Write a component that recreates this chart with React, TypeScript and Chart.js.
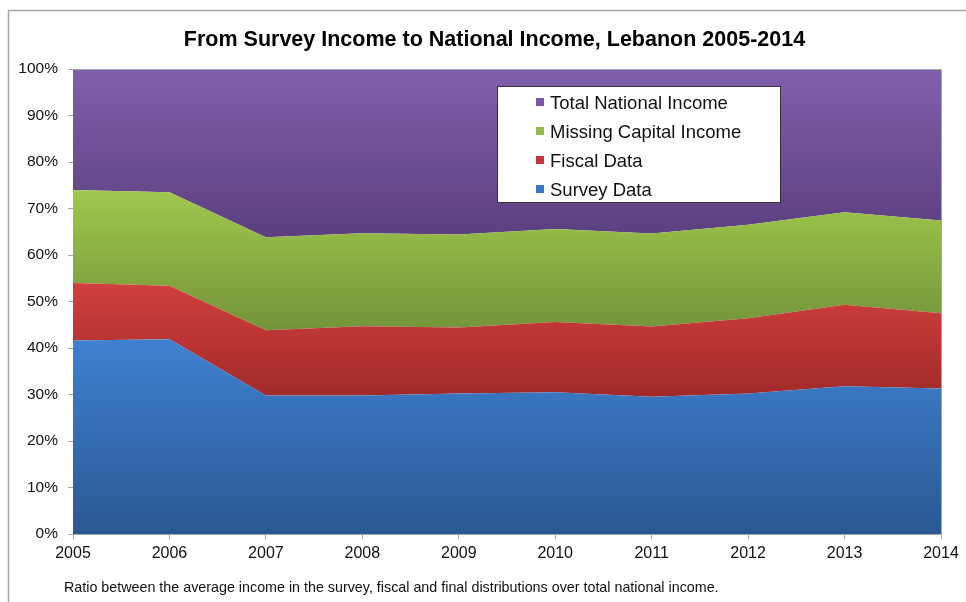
import React, { useEffect, useRef } from "react";
import { Chart, registerables } from "chart.js";

Chart.register(...registerables);

const years = ["2005", "2006", "2007", "2008", "2009", "2010", "2011", "2012", "2013", "2014"];
const surveyData = [41.6, 41.9, 29.8, 29.8, 30.2, 30.5, 29.5, 30.2, 31.8, 31.3];
const fiscalData = [12.4, 11.5, 14.0, 14.9, 14.2, 15.1, 15.1, 16.2, 17.5, 16.2];
const missingCapital = [20.0, 20.1, 20.0, 20.0, 20.0, 20.0, 20.0, 20.1, 19.9, 19.9];
const totalNational = [26.0, 26.5, 36.2, 35.3, 35.6, 34.4, 35.4, 33.5, 30.8, 32.6];
const seriesNames = ["Survey Data", "Fiscal Data", "Missing Capital Income", "Total National Income"];
const yTicks = [0, 10, 20, 30, 40, 50, 60, 70, 80, 90, 100];
const titleText = "From Survey Income to National Income, Lebanon 2005-2014";
const captionText =
  "Ratio between the average income in the survey, fiscal and final distributions over total national income.";

const FONT = "'Liberation Sans', Arial, Helvetica, sans-serif";

const gradStops: [string, string][] = [
  ["#3f81d1", "#2b5892"],
  ["#d1403d", "#a02a29"],
  ["#a0c84d", "#74943a"],
  ["#8060ab", "#5c3f7f"],
];
const legendSwatch = ["#7a58a4", "#93bb4a", "#c23a38", "#3a78c6"];

const seriesList = [surveyData, fiscalData, missingCapital, totalNational];

function seriesRange(idx: number): [number, number] {
  let top = -Infinity;
  let bottom = Infinity;
  for (let i = 0; i < years.length; i++) {
    let base = 0;
    for (let s = 0; s < idx; s++) base += seriesList[s][i];
    const t = base + seriesList[idx][i];
    if (t > top) top = t;
    if (base < bottom) bottom = base;
  }
  return [top, bottom];
}

export default function App() {
  const ref = useRef<HTMLCanvasElement | null>(null);

  useEffect(() => {
    if (!ref.current) return;

    const makeBg = (idx: number) => (ctx: any) => {
      const chart = ctx.chart;
      const area = chart.chartArea;
      const ys = chart.scales?.y;
      if (!area || !ys) return gradStops[idx][0];
      const [top, bottom] = seriesRange(idx);
      const g = chart.ctx.createLinearGradient(0, ys.getPixelForValue(top), 0, ys.getPixelForValue(bottom));
      g.addColorStop(0, gradStops[idx][0]);
      g.addColorStop(1, gradStops[idx][1]);
      return g;
    };

    const decor = {
      id: "decor",
      beforeDraw(chart: any) {
        const c = chart.ctx;
        c.save();
        c.fillStyle = "#ffffff";
        c.fillRect(0, 0, chart.width, chart.height);
        c.strokeStyle = "#a8a8a8";
        c.lineWidth = 1.5;
        c.beginPath();
        c.moveTo(8.5, chart.height);
        c.lineTo(8.5, 10.5);
        c.lineTo(chart.width, 10.5);
        c.stroke();

        c.font = `bold 21.5px ${FONT}`;
        c.fillStyle = "#000000";
        c.textAlign = "center";
        c.textBaseline = "middle";
        c.fillText(titleText, 494.5, 40);
        c.restore();
      },
      afterDraw(chart: any) {
        const c = chart.ctx;
        const a = chart.chartArea;
        c.save();
        c.strokeStyle = "#a6a6a6";
        c.lineWidth = 1;
        c.beginPath();
        c.moveTo(a.left, a.top + 0.5);
        c.lineTo(a.right + 0.5, a.top + 0.5);
        c.lineTo(a.right + 0.5, a.bottom);
        c.stroke();

        const lx = 497.5, ly = 86.5, lw = 283, lh = 116;
        c.fillStyle = "#ffffff";
        c.fillRect(lx, ly, lw, lh);
        c.strokeStyle = "#333333";
        c.lineWidth = 1;
        c.strokeRect(lx, ly, lw, lh);
        const names = [seriesNames[3], seriesNames[2], seriesNames[1], seriesNames[0]];
        c.font = `18.5px ${FONT}`;
        c.textBaseline = "middle";
        c.textAlign = "left";
        names.forEach((n, i) => {
          const cy = 102.5 + i * 29;
          c.fillStyle = legendSwatch[i];
          c.fillRect(536, cy - 4.5, 8, 8);
          c.fillStyle = "#111111";
          c.fillText(n, 550, cy + 1);
        });

        c.font = `14.3px ${FONT}`;
        c.fillStyle = "#111111";
        c.textBaseline = "middle";
        c.fillText(captionText, 64, 588);
        c.restore();
      },
    };

    const datasets = seriesNames.map((name, idx) => ({
      label: name,
      data: seriesList[idx],
      fill: idx === 0 ? "origin" : "-1",
      backgroundColor: makeBg(idx),
      borderWidth: 0,
      borderColor: "rgba(0,0,0,0)",
      pointRadius: 0,
      tension: 0,
    }));

    const chart = new Chart(ref.current, {
      type: "line",
      data: { labels: years, datasets: datasets as any },
      plugins: [decor],
      options: {
        animation: false,
        responsive: false,
        maintainAspectRatio: false,
        layout: { padding: { left: 0, right: 25, top: 69, bottom: 38 } },
        plugins: {
          legend: { display: false },
          tooltip: { enabled: false },
          title: { display: false },
        },
        scales: {
          x: {
            type: "category",
            offset: false,
            grid: { display: true, drawOnChartArea: false, drawTicks: true, tickLength: 5, color: "#a6a6a6" },
            border: { display: true, color: "#a6a6a6", width: 1 },
            ticks: {
              color: "#111111",
              font: { family: FONT, size: 16 },
              padding: 5,
              maxRotation: 0,
              autoSkip: false,
            },
            afterFit: (s: any) => {
              s.height = 30;
            },
          },
          y: {
            stacked: true,
            min: 0,
            max: 100,
            afterBuildTicks: (s: any) => {
              s.ticks = yTicks.map((v) => ({ value: v }));
            },
            grid: { display: true, drawOnChartArea: false, drawTicks: true, tickLength: 5, color: "#a6a6a6" },
            border: { display: true, color: "#a6a6a6", width: 1 },
            ticks: {
              color: "#111111",
              font: { family: FONT, size: 15.5 },
              padding: 10,
              callback: (v: any) => `${v}%`,
            },
            afterFit: (s: any) => {
              s.width = 73;
            },
          },
        },
      },
    });

    return () => chart.destroy();
  }, []);

  return (
    <div style={{ position: "fixed", left: 0, top: 0, width: 966, height: 602, background: "#fff" }}>
      <canvas ref={ref} width={966} height={602} style={{ display: "block", width: 966, height: 602 }} />
    </div>
  );
}
